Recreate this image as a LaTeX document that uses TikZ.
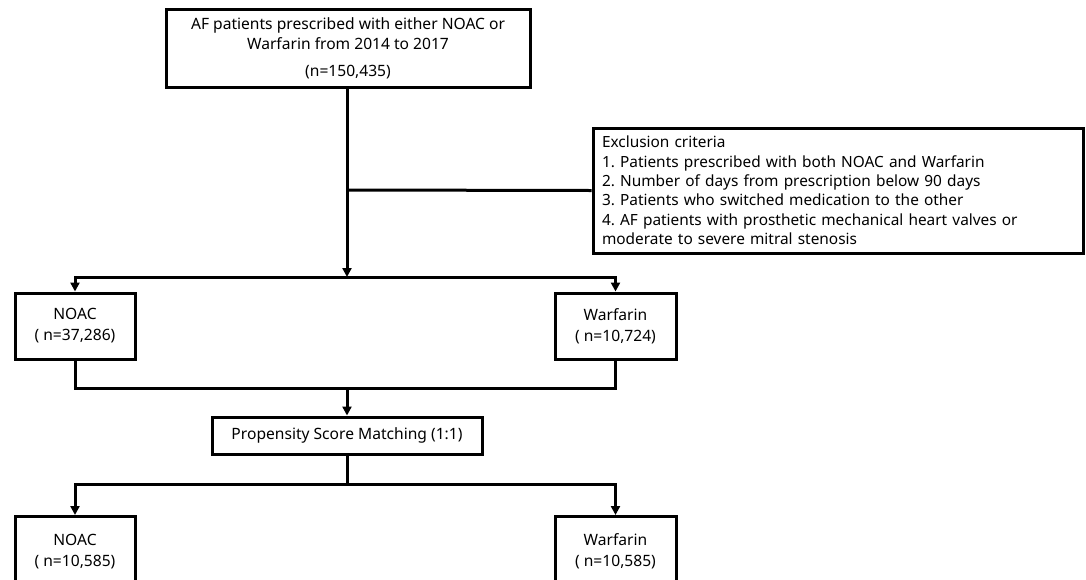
\documentclass[tikz,border=0pt]{standalone}
\usepackage{fontspec}
\setmainfont{Noto Sans}
\usetikzlibrary{arrows.meta}
\begin{document}
\frenchspacing
\begin{tikzpicture}[x=1pt,y=-1pt,
  box/.style={draw, line width=3pt, inner sep=0pt, align=center,
    font=\fontsize{15.6}{21}\selectfont},
  conn/.style={line width=3pt},
  arr/.style={conn, -{Triangle[length=9pt,width=9pt]}}]
\useasboundingbox (0,0) rectangle (1086,579);
\clip (0,0) rectangle (1086,579);
\node[box, minimum width=364pt, minimum height=78pt] (top) at (348,48)
  {AF patients prescribed with either NOAC or\\[-1pt]Warfarin from 2014 to 2017\\[6pt](n=150,435)};
\node[box, minimum width=490pt, minimum height=125pt, text width=472pt, align=left,
  font=\fontsize{15.4}{19.4}\selectfont] (excl) at (838,190.5)
  {Exclusion criteria\\
   1. Patients prescribed with both NOAC and Warfarin\\
   2. Number of days from prescription below 90 days\\
   3. Patients who switched medication to the other\\
   4. AF patients with prosthetic mechanical heart valves or\\
   moderate to severe mitral stenosis};
\node[box, minimum width=120pt, minimum height=66pt] (noac1) at (75,326) {NOAC\\( n=37,286)};
\node[box, minimum width=121pt, minimum height=66pt] (warf1) at (615.5,326) {Warfarin\\( n=10,724)};
\node[box, minimum width=270pt, minimum height=37pt] (psm) at (347,435.5) {Propensity Score Matching (1:1)};
\node[box, minimum width=120pt, minimum height=70pt, anchor=north] (noac2) at (75,515) {NOAC\\( n=10,585)};
\node[box, minimum width=121pt, minimum height=70pt, anchor=north] (warf2) at (615.5,515) {Warfarin\\( n=10,585)};
\coordinate (jx) at (347,190);
\coordinate (split1) at (347,277);
\coordinate (merge1) at (347,388);
\coordinate (split2) at (347,484);
\draw[arr] (top.south -| jx) -- (split1);
\draw[conn] (jx) -- (excl.west);
\draw[arr] (split1) -| (noac1.north);
\draw[arr] (split1) -| (warf1.north);
\draw[conn] (noac1.south) |- (merge1) -| (warf1.south);
\draw[arr] (merge1) -- (psm.north);
\draw[conn] (psm.south) -- (split2);
\draw[arr] (split2) -| (noac2.north);
\draw[arr] (split2) -| (warf2.north);
\end{tikzpicture}
\end{document}
